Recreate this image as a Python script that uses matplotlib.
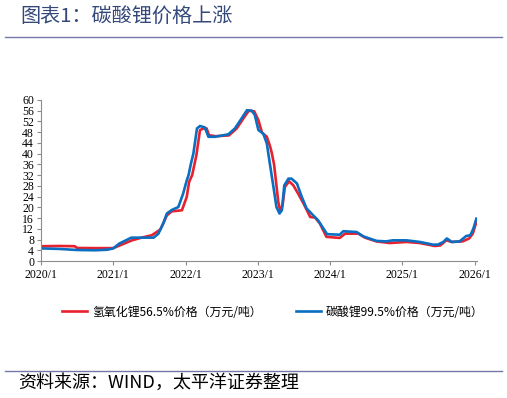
"""
碳酸锂价格上涨 - recreate the chart with matplotlib
"""

import numpy as np
import matplotlib
matplotlib.use('Agg')
import matplotlib.pyplot as plt
from matplotlib.lines import Line2D

# data (x = months since 2020/1, values in 万元/吨)
lioh_month = [0, 3, 5.6, 6.0, 9, 12, 13.4, 15.1, 16.7, 18.4, 19.8, 20.3, 20.9,
    21.7, 23.4, 24.2, 24.6, 25.1, 25.8, 26.4, 27.0, 27.5, 27.9, 29.0, 31.2,
    32.5, 33.6, 34.5, 35.4, 36.1, 36.7, 37.5, 38.0, 38.3, 38.7, 39.0, 39.4,
    39.7, 40.1, 40.5, 41.2, 41.9, 42.7, 43.6, 44.7, 45.5, 46.3, 47.4, 49.6,
    50.5, 52.7, 53.8, 55.7, 57.9, 60.7, 62.9, 65.4, 66.3, 67.3, 68.2, 70.0,
    71.1, 71.7, 72.3]
lioh_price = [5.5, 5.6, 5.5, 4.85, 4.8, 4.8, 6.1, 7.7, 8.7, 9.6, 11.7, 14.0,
    17.0, 18.5, 18.9, 23.9, 29.5, 32.0, 39.4, 48.8, 49.4, 49.4, 46.9, 46.5,
    46.8, 49.4, 53.1, 56.0, 55.8, 52.5, 47.8, 46.3, 43.0, 40.5, 36.0, 30.1,
    22.0, 18.9, 20.6, 27.6, 29.7, 28.2, 25.1, 21.4, 16.4, 16.2, 14.0, 9.0,
    8.6, 10.2, 10.2, 8.7, 7.3, 6.7, 7.1, 6.7, 5.6, 5.8, 7.7, 7.1, 7.3, 8.4,
    10.2, 14.6]

li2co3_month = [0, 3, 6, 9, 11, 12, 13, 14, 15, 17, 18.7, 19.5, 20.3, 20.9,
    21.7, 22.8, 23.6, 24.2, 24.5, 24.9, 25.3, 25.9, 26.4, 27.2, 27.8, 28.9,
    31.1, 32.2, 33.3, 34.2, 35.0, 35.5, 36.1, 36.9, 37.5, 38.0, 38.6, 39.1,
    39.6, 40.0, 40.4, 41.1, 41.6, 42.5, 43.3, 44.1, 45.2, 46.0, 46.9, 47.5,
    49.6, 50.2, 52.4, 53.5, 55.7, 57.3, 58.4, 60.7, 62.9, 65.1, 65.9, 66.8,
    67.4, 68.2, 69.5, 70.6, 71.3, 71.8, 72.3]
li2co3_price = [4.7, 4.5, 4.1, 4.0, 4.2, 4.7, 6.5, 7.6, 8.7, 8.7, 8.7, 10.2,
    14.0, 17.7, 19.0, 20.1, 25.1, 30.0, 32.0, 36.3, 40.0, 49.4, 50.3, 49.8,
    46.3, 46.3, 47.2, 49.4, 53.1, 56.2, 56.0, 54.4, 48.8, 47.5, 43.8, 36.3,
    27.6, 20.1, 17.7, 18.9, 28.2, 30.7, 30.7, 28.9, 23.9, 19.6, 17.0, 15.2,
    12.1, 10.0, 9.8, 11.1, 10.8, 9.2, 7.5, 7.3, 7.7, 7.7, 7.1, 6.1, 6.1, 7.1,
    8.4, 7.1, 7.3, 9.3, 9.6, 12.1, 15.8]

tick_month = [0, 12, 24, 36, 48, 60, 72]
tick_label = ['2020/1', '2021/1', '2022/1', '2023/1', '2024/1', '2025/1', '2026/1']

lab_lioh = '氢氧化锂56.5%价格（万元/吨）'
lab_li2co3 = '碳酸锂99.5%价格（万元/吨）'

# PLOTTING
cjk = ['Noto Sans CJK SC', 'DejaVu Sans']
serif = 'Liberation Serif'
red = '#e8212e'
blue = '#0a6fc2'
line_col = '#7478a8'
lw = 1.9
plt.close('all')

fig = plt.figure(figsize=(5.07, 3.98), dpi=100)

# header and footer
fig.text(20/507, 1 - 17/398, '图表1：碳酸锂价格上涨', family=cjk, fontsize=14.5,
    color='#34497a', va='center', ha='left')
fig.add_artist(Line2D([5/507, 502/507], [1 - 37/398]*2, color=line_col, lw=1))
fig.add_artist(Line2D([5/507, 502/507], [1 - 371/398]*2, color=line_col, lw=1))
fig.text(18/507, 1 - 383/398, '资料来源：WIND，太平洋证券整理', family=cjk,
    fontsize=13, style='italic', va='center', ha='left')

# ----------------------------------------------------------------------
ax = fig.add_axes([41/507, 137/398, 436/507, 161/398])
ax.plot(lioh_month, lioh_price, color=red, lw=lw, label=lab_lioh)
ax.plot(li2co3_month, li2co3_price, color=blue, lw=lw, label=lab_li2co3)

ax.set_xlim(0, 72.4)
ax.set_ylim(0, 60)
ax.set_yticks(np.arange(0, 61, 4))
ax.set_xticks(tick_month)
ax.set_xticklabels(tick_label)
for s in ['top', 'right']:
    ax.spines[s].set_visible(False)
for s in ['left', 'bottom']:
    ax.spines[s].set_color('#8c8c8c')
    ax.spines[s].set_linewidth(0.8)
ax.tick_params(axis='both', colors='#8c8c8c', labelcolor='black', length=3,
    width=0.8, labelsize=8.5)
ax.tick_params(axis='y', pad=2)
ax.tick_params(axis='x', pad=3)
for t in ax.get_xticklabels() + ax.get_yticklabels():
    t.set_family(serif)

h, l = ax.get_legend_handles_labels()
fig.legend(h, l, loc='center', bbox_to_anchor=(273/507, 1 - 312/398), ncol=2,
    frameon=False, prop={'family': cjk, 'size': 8.6}, handlelength=2.1,
    handletextpad=0.4, columnspacing=2.9)

fig.savefig('out.png', dpi=100)
